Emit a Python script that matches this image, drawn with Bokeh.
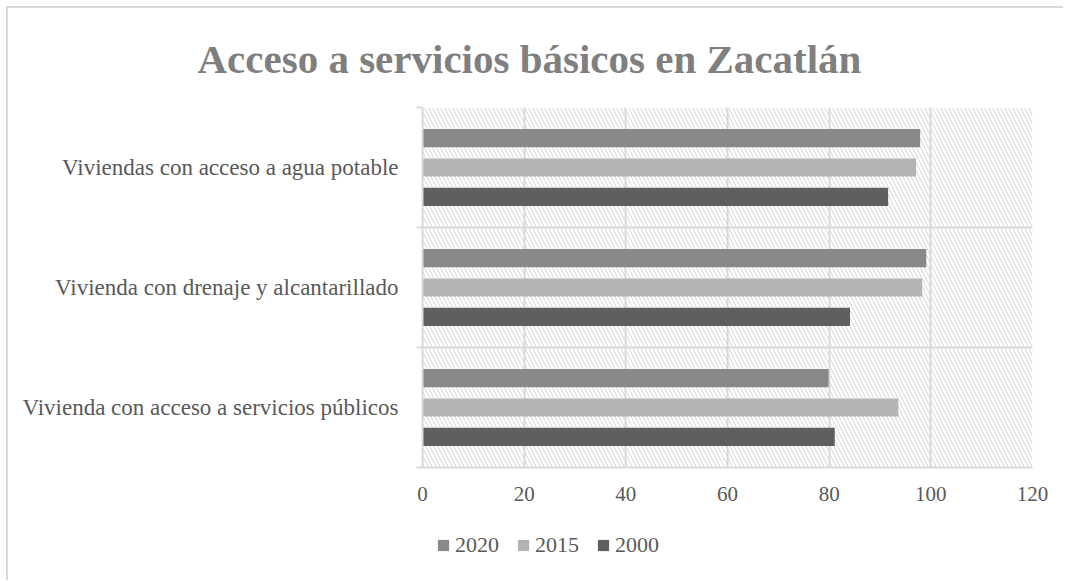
from bokeh.plotting import figure
from bokeh.models import (ColumnDataSource, FixedTicker, BoxAnnotation,
                          Legend, LegendItem, Range1d)
from bokeh.layouts import column
from bokeh.transform import dodge
from bokeh.embed import file_html
from bokeh.resources import INLINE

# ---- data ----
categories = ["Vivienda con acceso a servicios públicos",
              "Vivienda con drenaje y alcantarillado",
              "Viviendas con acceso a agua potable"]
years = ["2020", "2015", "2000"]
v2020 = [79.9, 99.1, 97.9]
v2015 = [93.6, 98.3, 97.1]
v2000 = [81.1, 84.1, 91.6]
x_ticks = [0, 20, 40, 60, 80, 100, 120]
title_text = "Acceso a servicios básicos en Zacatlán"

colors = {"2020": "#898989", "2015": "#b3b3b3", "2000": "#5f5f5f"}
offsets = {"2020": 0.245, "2015": 0.0, "2000": -0.245}
FONT = "Liberation Serif"
GRID = "#d9d9d9"
BORDER = "2px solid #d9d9d9"

src = ColumnDataSource(dict(pos=list(range(len(categories))),
                            v2020=v2020, v2015=v2015, v2000=v2000))

# ---------- main chart ----------
p = figure(frame_width=608, frame_height=358, output_backend="svg", toolbar_location=None,
           x_range=Range1d(0, 120), y_range=Range1d(-0.5, len(categories) - 0.5),
           min_border_left=414, min_border_right=33, min_border_top=98,
           min_border_bottom=56)
p.margin = (6, 0, 0, 6)
p.styles = {"border-left": BORDER, "border-top": BORDER}
p.outline_line_color = None
p.background_fill_color = "white"
p.border_fill_color = "white"

# title
p.title.text = title_text
p.title.align = "left"
p.title.offset = -225
p.title.standoff = 51
p.title.text_font = FONT
p.title.text_font_size = "41px"
p.title.text_font_style = "bold"
p.title.text_color = "#7f7f7f"

# hatched plot area
hatch = BoxAnnotation(fill_alpha=0, line_color=None, hatch_pattern="\\",
                      hatch_color="#d6d6d6", hatch_scale=8, hatch_weight=1,
                      level="image")
p.add_layout(hatch)

# grids
p.xgrid.ticker = FixedTicker(ticks=x_ticks)
p.xgrid.grid_line_color = GRID
p.xgrid.grid_line_width = 2
p.ygrid.ticker = FixedTicker(ticks=[i - 0.5 for i in range(len(categories) + 1)])
p.ygrid.grid_line_color = GRID
p.ygrid.grid_line_width = 2

# bars
for yr in years:
    p.hbar(y=dodge("pos", offsets[yr], range=p.y_range), left=0,
           right="v" + yr, height=0.151, source=src,
           fill_color=colors[yr], line_color=None)

# x axis
xa = p.xaxis[0]
xa.ticker = FixedTicker(ticks=x_ticks)
xa.major_tick_line_color = None
xa.major_tick_out = 0
xa.major_tick_in = 0
xa.minor_tick_line_color = None
xa.axis_line_color = GRID
xa.axis_line_width = 2
xa.major_label_text_font = FONT
xa.major_label_text_font_size = "21px"
xa.major_label_text_color = "#595959"
xa.major_label_standoff = 19

# y axis
ya = p.yaxis[0]
ya.ticker = FixedTicker(ticks=list(range(len(categories))),
                        minor_ticks=[i - 0.5 for i in range(len(categories) + 1)])
ya.major_label_overrides = {i: c for i, c in enumerate(categories)}
ya.major_tick_line_color = None
ya.major_tick_out = 0
ya.major_tick_in = 0
ya.minor_tick_line_color = GRID
ya.minor_tick_line_width = 2
ya.minor_tick_in = 0
ya.minor_tick_out = 6
ya.axis_line_color = GRID
ya.axis_line_width = 2
ya.major_label_text_font = FONT
ya.major_label_text_font_size = "23px"
ya.major_label_text_color = "#595959"
ya.major_label_standoff = 18

# ---------- legend strip (same bars, scrolled out of view; only the legend shows) ----------
lg = figure(width=1055, height=59, output_backend="svg", toolbar_location=None,
            x_axis_type=None, y_axis_type=None,
            x_range=Range1d(0, 120), y_range=Range1d(10, 11),
            min_border_left=414, min_border_right=33,
            min_border_top=15, min_border_bottom=0)
lg.margin = (0, 0, 0, 6)
lg.styles = {"border-left": BORDER}
lg.outline_line_color = None
lg.background_fill_color = "white"
lg.border_fill_color = "white"
lg.grid.visible = False
leg_renderers = [lg.hbar(y=dodge("pos", offsets[yr], range=lg.y_range), left=0,
                         right="v" + yr, height=0.151, source=src,
                         fill_color=colors[yr], line_color=None) for yr in years]
legend = Legend(items=[LegendItem(label=yr, renderers=[r])
                       for yr, r in zip(years, leg_renderers)],
                orientation="horizontal", location=(14, 22),
                padding=0, margin=0, border_line_color=None,
                background_fill_alpha=0, glyph_width=14, glyph_height=14,
                label_height=14, label_standoff=5, spacing=17,
                label_text_font=FONT, label_text_font_size="22px",
                label_text_color="#595959")
lg.add_layout(legend)

layout = column(p, lg, spacing=0)
open("out.html", "w").write(file_html(layout, INLINE))
